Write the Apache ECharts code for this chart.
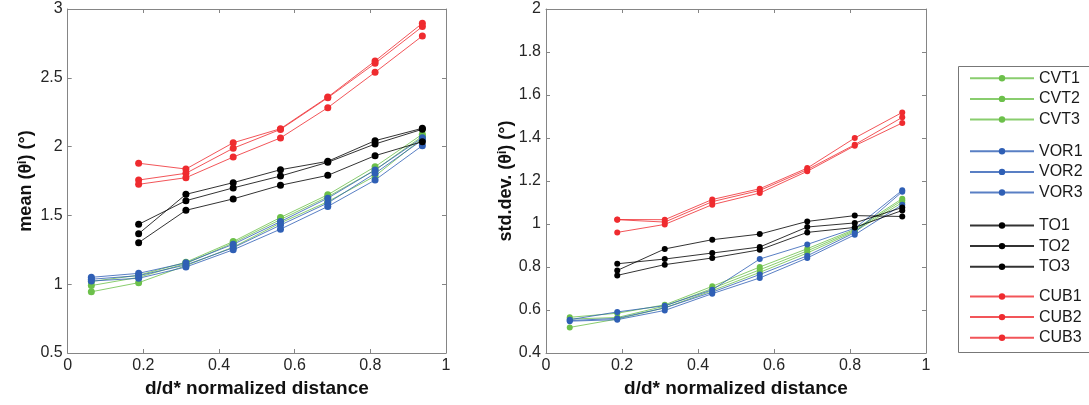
<!DOCTYPE html>
<html>
<head>
<meta charset="utf-8">
<script src="https://cdn.jsdelivr.net/npm/echarts@6/dist/echarts.min.js"></script>
<style>
html,body{margin:0;padding:0;background:#fff;}
#chart{width:1089px;height:405px;}
</style>
</head>
<body>
<div id="chart"></div>
<script>
// x positions (normalized distance)
const xFull = [0.0625, 0.1875, 0.3125, 0.4375, 0.5625, 0.6875, 0.8125, 0.9375];
const xShort = [0.1875, 0.3125, 0.4375, 0.5625, 0.6875, 0.8125, 0.9375];

// tick labels
const meanTicks = [0.5, 1, 1.5, 2, 2.5, 3];
const sdTicks = [0.4, 0.6, 0.8, 1, 1.2, 1.4, 1.6, 1.8, 2];
const xTicks = [0, 0.2, 0.4, 0.6, 0.8, 1];

// series names
const seriesNames = ['CVT1','CVT2','CVT3','VOR1','VOR2','VOR3','TO1','TO2','TO3','CUB1','CUB2','CUB3'];

// mean values
const meanCVT1 = [1.02, 1.065, 1.16, 1.31, 1.485, 1.65, 1.854, 2.09];
const meanCVT2 = [0.99, 1.05, 1.15, 1.30, 1.47, 1.635, 1.83, 2.075];
const meanCVT3 = [0.945, 1.011, 1.135, 1.27, 1.445, 1.60, 1.786, 2.06];
const meanVOR1 = [1.05, 1.079, 1.155, 1.29, 1.455, 1.625, 1.83, 2.065];
const meanVOR2 = [1.036, 1.062, 1.14, 1.265, 1.43, 1.59, 1.806, 2.048];
const meanVOR3 = [1.023, 1.043, 1.125, 1.25, 1.40, 1.565, 1.757, 2.007];
const meanTO1 = [1.367, 1.653, 1.738, 1.832, 1.893, 2.043, 2.133];
const meanTO2 = [1.435, 1.607, 1.70, 1.786, 1.886, 2.019, 2.126];
const meanTO3 = [1.302, 1.537, 1.62, 1.719, 1.791, 1.934, 2.036];
const meanCUB1 = [1.879, 1.837, 2.028, 2.13, 2.36, 2.622, 2.896];
const meanCUB2 = [1.757, 1.806, 1.988, 2.125, 2.355, 2.605, 2.872];
const meanCUB3 = [1.726, 1.774, 1.924, 2.063, 2.283, 2.540, 2.804];

// std.dev. values
const sdCVT1 = [0.566, 0.585, 0.624, 0.71, 0.80, 0.885, 0.975, 1.118];
const sdCVT2 = [0.558, 0.565, 0.618, 0.70, 0.787, 0.875, 0.97, 1.11];
const sdCVT3 = [0.519, 0.558, 0.61, 0.69, 0.775, 0.865, 0.965, 1.10];
const sdVOR1 = [0.555, 0.591, 0.62, 0.694, 0.837, 0.905, 0.98, 1.157];
const sdVOR2 = [0.551, 0.561, 0.61, 0.683, 0.765, 0.852, 0.96, 1.15];
const sdVOR3 = [0.548, 0.555, 0.598, 0.676, 0.749, 0.842, 0.95, 1.09];
const sdTO1 = [0.784, 0.884, 0.927, 0.953, 1.012, 1.039, 1.035];
const sdTO2 = [0.815, 0.837, 0.865, 0.893, 0.986, 1.005, 1.077];
const sdTO3 = [0.761, 0.811, 0.842, 0.880, 0.961, 0.984, 1.063];
const sdCUB1 = [1.021, 1.020, 1.114, 1.164, 1.260, 1.400, 1.519];
const sdCUB2 = [1.020, 1.009, 1.104, 1.156, 1.253, 1.369, 1.496];
const sdCUB3 = [0.961, 0.998, 1.090, 1.144, 1.245, 1.364, 1.470];

const GREEN = '#6cc04a', BLUE = '#2f5fb5', BLACK = '#000000', RED = '#ef2b2f';
const FONT = '"Liberation Sans", Arial, Helvetica, sans-serif';
const AXIS_GRAY = '#858585';
const LABEL_COLOR = '#262626';

function pairs(xs, ys) { return ys.map((v, i) => [xs[i], v]); }

const meanSets = [meanCVT1, meanCVT2, meanCVT3, meanVOR1, meanVOR2, meanVOR3, meanTO1, meanTO2, meanTO3, meanCUB1, meanCUB2, meanCUB3];
const sdSets = [sdCVT1, sdCVT2, sdCVT3, sdVOR1, sdVOR2, sdVOR3, sdTO1, sdTO2, sdTO3, sdCUB1, sdCUB2, sdCUB3];
const colors = [GREEN, GREEN, GREEN, BLUE, BLUE, BLUE, BLACK, BLACK, BLACK, RED, RED, RED];

function makeSeries(sets, axisBase, symSize) {
  return sets.map((ys, i) => ({
    name: seriesNames[i],
    type: 'line',
    xAxisIndex: axisBase,
    yAxisIndex: axisBase,
    data: pairs(ys.length === 8 ? xFull : xShort, ys),
    symbol: 'circle',
    symbolSize: symSize,
    showSymbol: true,
    color: colors[i],
    itemStyle: { color: colors[i] },
    lineStyle: { color: colors[i], width: 1, opacity: 0.8 },
    emphasis: { disabled: true },
    animation: false,
    z: 2
  }));
}

function mainX(gridIndex) {
  return {
    type: 'value', gridIndex, min: xTicks[0], max: xTicks[xTicks.length - 1], interval: 0.2,
    position: 'bottom',
    axisLine: { show: true, onZero: false, lineStyle: { color: AXIS_GRAY, width: 1 } },
    axisTick: { show: true, inside: true, length: 4, lineStyle: { color: AXIS_GRAY } },
    axisLabel: { show: true, fontSize: 16, color: LABEL_COLOR, fontFamily: FONT, margin: 5 },
    splitLine: { show: false },
    name: 'd/d* normalized distance', nameLocation: 'middle', nameGap: 24,
    nameTextStyle: { fontSize: 19, fontWeight: 'bold', color: '#111', fontFamily: FONT }
  };
}
function topX(gridIndex) {
  return {
    type: 'value', gridIndex, min: xTicks[0], max: xTicks[xTicks.length - 1], interval: 0.2,
    position: 'top',
    axisLine: { show: true, onZero: false, lineStyle: { color: AXIS_GRAY, width: 1 } },
    axisTick: { show: true, inside: true, length: 4, lineStyle: { color: AXIS_GRAY } },
    axisLabel: { show: false }, splitLine: { show: false }
  };
}
function mainY(gridIndex, ticks, interval, name, gap) {
  return {
    type: 'value', gridIndex, min: ticks[0], max: ticks[ticks.length - 1], interval,
    position: 'left',
    axisLine: { show: true, onZero: false, lineStyle: { color: AXIS_GRAY, width: 1 } },
    axisTick: { show: true, inside: true, length: 4, lineStyle: { color: AXIS_GRAY } },
    axisLabel: { show: true, fontSize: 16, color: LABEL_COLOR, fontFamily: FONT, margin: 5 },
    splitLine: { show: false },
    name, nameLocation: 'middle', nameGap: gap, nameRotate: 90,
    nameTextStyle: {
      fontSize: 18, fontWeight: 'bold', color: '#111', fontFamily: FONT,
      rich: { sup: { fontSize: 12, fontWeight: 'bold', color: '#111', fontFamily: FONT, verticalAlign: 'top', padding: [0, 0, 6, 0] } }
    }
  };
}
function rightY(gridIndex, ticks, interval) {
  return {
    type: 'value', gridIndex, min: ticks[0], max: ticks[ticks.length - 1], interval,
    position: 'right',
    axisLine: { show: true, onZero: false, lineStyle: { color: AXIS_GRAY, width: 1 } },
    axisTick: { show: true, inside: true, length: 4, lineStyle: { color: AXIS_GRAY } },
    axisLabel: { show: false }, splitLine: { show: false }
  };
}

const legendGroups = [
  ['CVT1','CVT2','CVT3'],
  ['VOR1','VOR2','VOR3'],
  ['TO1','TO2','TO3'],
  ['CUB1','CUB2','CUB3']
];
const legendTops = [70.3, 143.3, 217.5, 288.5];

const legends = legendGroups.map((g, i) => ({
  data: g,
  orient: 'vertical',
  left: 969,
  top: legendTops[i],
  padding: 0,
  itemWidth: 64,
  itemHeight: 8,
  itemGap: 4.6,
  selectedMode: false,
  textStyle: { fontSize: 16, color: '#1a1a1a', fontFamily: FONT },
  lineStyle: { width: 2 }
}));

const chart = echarts.init(document.getElementById('chart'), null, { renderer: 'canvas' });
chart.setOption({
  animation: false,
  backgroundColor: '#ffffff',
  grid: [
    { left: 67.7, right: 1089 - 446, top: 9, bottom: 405 - 353, containLabel: false, outerBoundsMode: 'none' },
    { left: 546, right: 1089 - 926, top: 9, bottom: 405 - 353, containLabel: false, outerBoundsMode: 'none' }
  ],
  xAxis: [mainX(0), mainX(1), topX(0), topX(1)],
  yAxis: [
    mainY(0, meanTicks, 0.5, 'mean (θ{sup|i}) (°)', 33),
    mainY(1, sdTicks, 0.2, 'std.dev. (θ{sup|i}) (°)', 27),
    rightY(0, meanTicks, 0.5),
    rightY(1, sdTicks, 0.2)
  ],
  legend: legends,
  graphic: [{
    type: 'rect',
    shape: { x: 958.5, y: 66.5, width: 140, height: 286 },
    style: { fill: 'none', stroke: '#777', lineWidth: 1 },
    z: -1, silent: true
  }],
  series: [].concat(makeSeries(meanSets, 0, 7), makeSeries(sdSets, 1, 6))
});
</script>
</body>
</html>
